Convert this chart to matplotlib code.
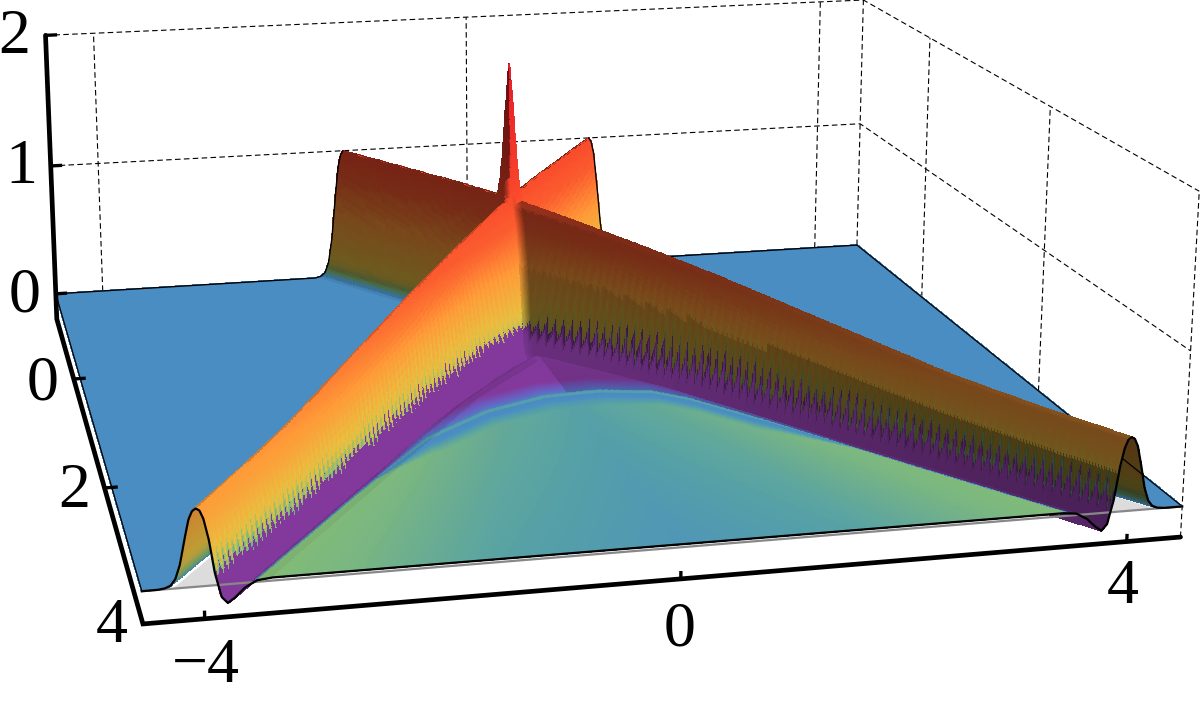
import numpy as np
import matplotlib
matplotlib.use("Agg")
import matplotlib.pyplot as plt
from matplotlib.colors import LinearSegmentedColormap

# --- axis ranges and labels
X_MIN, X_MAX = -4.5, 4.5
T_MIN, T_MAX = -1.3, 4.0
Z_MIN = -0.2
X_TICKS = [-4, 0, 4]
T_TICKS = [0, 2]
Z_TICKS = [0, 1, 2]
X_LABELS = ["\u22124", "0", "4"]
T_LABELS = ["0", "2", "4"]
Z_LABELS = ["0", "1", "2"]

# --- values
BACK_SPEED = 1.05
FRONT_LEFT_SPEED = 1.012
CREST_T = [-1.3, -0.4, 0.0, 0.5, 1.0, 1.5, 2.0, 2.5, 3.0, 3.5, 4.0]   # ridge height along time
CREST_A = [1.0, 0.98, 0.96, 0.91, 0.855, 0.79, 0.71, 0.63, 0.55, 0.505, 0.475]
OUTER_D = [0.0, 0.03, 0.06, 0.10, 0.14, 0.18, 0.22, 0.27, 0.33]       # ridge section, outer side
OUTER_P = [1.0, 0.97, 0.87, 0.60, 0.30, 0.12, 0.04, 0.01, 0.0]
INNER_D = [0.0, 0.03, 0.06, 0.10, 0.14, 0.19, 0.24, 0.30, 0.38, 0.48, 0.60]  # inner side, trough
INNER_P = [1.0, 0.97, 0.86, 0.58, 0.16, -0.15, -0.23, -0.17, -0.06, 0.02, 0.04]
WIDEN_T = [0.0, 0.3, 0.8, 1.5, 4.0]                                   # inner side is wider near the crossing
WIDEN_W = [3.2, 2.6, 1.5, 1.1, 1.0]
TROUGH_SCALE = 0.5
SPIKE_R = [0.0, 0.01, 0.02, 0.03, 0.055, 0.08, 0.11, 0.16, 0.20]       # central spike
SPIKE_Z = [0.99, 0.93, 0.85, 0.76, 0.55, 0.36, 0.20, 0.05, 0.0]
ARC_X = [-4.2, -3.6, -2.5, -1.56, -0.87, -0.24, 0.3, 0.8, 1.09, 1.66, 2.5, 3.4, 4.2]  # purple zone edge
ARC_T = [4.6, 4.0, 2.95, 2.1, 1.72, 1.53, 1.5, 1.58, 1.75, 2.25, 3.08, 3.95, 4.75]
RIM_X = [0.0, 1.5, 2.2]
RIM_W = [1.0, 1.0, 0.12]
ARC_D = [-0.22, -0.12, -0.04, 0.0, 0.02, 0.05, 0.07, 0.14, 0.30]
ARC_C = [0.03, 0.10, 0.16, 0.20, 0.32, 0.32, 0.24, 0.26, 0.31]
U_TAB = [0.0, 0.4, 0.7, 1.0]                                            # colour across the wedge
U_COL_NEAR = [0.33, 0.36, 0.40, 0.44]
U_COL_FRONT = [0.285, 0.33, 0.40, 0.44]
BAND_T = [0.0, 1.5, 3.0, 4.0]                                           # right purple band darkens
BAND_F = [0.95, 0.85, 0.72, 0.65]
Z_TAB = [0.0, 0.01, 0.03, 0.06, 0.12, 0.20, 0.35, 0.50, 0.80, 1.0, 1.5, 2.0]
C_TAB = [0.08, 0.16, 0.30, 0.42, 0.55, 0.60, 0.66, 0.72, 0.84, 0.88, 0.95, 1.0]
CMAP_POS = [0.0, 0.12, 0.25, 0.32, 0.42, 0.58, 0.72, 0.88, 1.0]
CMAP_COL = ["#8a2f90", "#6a5cc0", "#4a8dc3", "#55a0a8", "#82bb78",
            "#e8c040", "#ff9a38", "#fa4a2c", "#e81c28"]
TOOTH_PERIOD = 0.05
TOOTH_LEFT, TOOTH_RIGHT = 0.022, 0.035

# --- camera calibration: (x, t, z) seen at (px, py)
CAL_3D = np.array([
    (-4.5, -1.3, 0), (4.5, -1.3, 0), (4.5, 4, 0), (-4.5, 4, 0),
    (-4.5, -1.3, 2), (4.5, -1.3, 2), (4.5, 4, 2), (-4.5, -1.3, 1), (4.5, -1.3, 1),
    (-4, -1.3, 2), (4, -1.3, 2), (4.5, 0, 2), (4.5, 2, 2), (-4, -1.3, 0), (4, -1.3, 0),
    (-4.5, -1.3, -.2), (-4.5, 4, -.2), (4.5, 4, -.2), (-4, 4, -.2), (0, 4, -.2),
    (4, 4, -.2), (-4.5, 0, -.2), (-4.5, 2, -.2)], float)
CAL_2D = np.array([
    (58, 293), (857, 245), (1182, 507), (142, 592),
    (45, 35), (862, 0), (1198, 190), (52, 165), (859, 123),
    (93, 33), (820, 2), (932, 39), (1052, 108), (103, 291), (815, 247),
    (55, 320), (143, 624), (1181, 537), (204, 617), (680, 579),
    (1127, 541), (73, 381), (105, 488)], float)


def fit_camera(p3, p2):
    rows, rhs = [], []
    for (x, y, z), (u, v) in zip(p3, p2):
        rows.append([x, y, z, 1, 0, 0, 0, 0, -u * x, -u * y, -u * z]); rhs.append(u)
        rows.append([0, 0, 0, 0, x, y, z, 1, -v * x, -v * y, -v * z]); rhs.append(v)
    s = np.linalg.lstsq(np.array(rows), np.array(rhs), rcond=None)[0]
    return np.append(s, 1).reshape(3, 4)


CAM = fit_camera(CAL_3D, CAL_2D)


def proj(x, t, z):
    x, t, z = np.broadcast_arrays(np.asarray(x, float), np.asarray(t, float), np.asarray(z, float))
    w = CAM[2, 0] * x + CAM[2, 1] * t + CAM[2, 2] * z + CAM[2, 3]
    return ((CAM[0, 0] * x + CAM[0, 1] * t + CAM[0, 2] * z + CAM[0, 3]) / w,
            (CAM[1, 0] * x + CAM[1, 1] * t + CAM[1, 2] * z + CAM[1, 3]) / w)


def ridge_dist(x, t):
    speed = np.where(t < 0, BACK_SPEED, np.where(x < 0, FRONT_LEFT_SPEED, 1.0))
    return np.abs(x) - np.abs(t) * speed


def section(rho, t):
    outer = np.interp(np.abs(rho), OUTER_D, OUTER_P)
    widen = np.interp(t, WIDEN_T, WIDEN_W)
    inner = np.interp(-rho / widen, INNER_D, INNER_P)
    return np.where((t > 0) & (rho < 0), inner, outer)


def height(x, t):
    x, t = np.broadcast_arrays(np.asarray(x, float), np.asarray(t, float))
    rho = ridge_dist(x, t)
    a = np.interp(t, CREST_T, CREST_A)
    prof = section(rho, t)
    r = np.hypot(x, 2.0 * t)
    return a * np.maximum(prof, 0) + TROUGH_SCALE * np.minimum(prof, 0) + np.interp(r, SPIKE_R, SPIKE_Z)


# grid steps locked to the tooth period so the colour teeth do not beat with the rows
STEP = TOOTH_PERIOD / 6
x_g = np.union1d(np.arange(-540, 541) * STEP, np.arange(-48, 49) * STEP / 2)
x_g = x_g[(x_g >= X_MIN) & (x_g <= X_MAX)]
t_g = np.arange(-156, 481) * STEP
XX, TT = np.meshgrid(x_g, t_g)
ZZ = height(XX, TT)
RHO = ridge_dist(XX, TT)
widen = np.interp(TT, WIDEN_T, WIDEN_W)

# sampling teeth of the colour along the foot of the front ridges
phase = np.abs(2 * ((TT / TOOTH_PERIOD) % 1.0) - 1)
window = np.clip((-RHO / widen - 0.06) / 0.05, 0, 1)
tooth = np.where(XX < 0, TOOTH_LEFT, TOOTH_RIGHT) * phase * window * np.clip(TT / 0.5, 0, 1)
RHO_C = np.where((TT > 0) & (RHO < 0), RHO - tooth, RHO)
PROF_C = section(RHO_C, TT)
Z_C = np.interp(TT, CREST_T, CREST_A) * np.maximum(PROF_C, 0) + TROUGH_SCALE * np.minimum(PROF_C, 0) \
      + np.interp(np.hypot(XX, 2.0 * TT), SPIKE_R, SPIKE_Z)

cmap = LinearSegmentedColormap.from_list("ridge", list(zip(CMAP_POS, CMAP_COL)))
c_z = np.interp(Z_C, Z_TAB, C_TAB)
arc = np.interp(XX, ARC_X, ARC_T)
u_abs = np.abs(XX) / np.maximum(TT, 1e-3)
mix = np.clip((TT - 1.5) / 2.5, 0, 1)
base = (1 - mix) * np.interp(u_abs, U_TAB, U_COL_NEAR) + mix * np.interp(u_abs, U_TAB, U_COL_FRONT)
d = (TT - arc) / np.interp(np.abs(XX), RIM_X, RIM_W)
blend = np.clip((d - ARC_D[-2]) / (ARC_D[-1] - ARC_D[-2]), 0, 1)
field = np.where(d < ARC_D[-1], (1 - blend) * np.interp(d, ARC_D, ARC_C) + blend * base, base)
wedge = (TT > 0) & (RHO < 0)
col = np.where(wedge, np.where(RHO_C / widen < -0.15, field, np.maximum(c_z, field)),
               np.maximum(c_z, 0.25))

grad = np.gradient(ZZ, x_g, axis=1)
tunnel = (TT > 0.15) & (RHO > 0)
grad = np.where(tunnel, -grad, grad)
weight = 0.25 + 0.75 * np.clip(Z_C / 0.08, 0, 1)
seam = np.where(TT > 0.05, np.clip(np.abs(XX) / 0.08, 0, 1), 1.0)
shade = 1 - 0.53 * np.clip(np.tanh(3.0 * grad), 0, 1) * weight * seam
back_f = np.where(XX < 0, 0.82, 0.72)
shade = shade * np.where(tunnel, 1 - (1 - back_f) * np.clip(ZZ / 0.05, 0, 1), 1.0)
in_band = wedge & (XX > 0) & (d < 0) & (RHO / widen < -0.1)
shade = shade * np.where(in_band, np.interp(TT, BAND_T, BAND_F), 1.0)
rgba = cmap(col)
rgba[..., :3] *= shade[..., None]
rgba = rgba[:-1, :-1].copy()
cx = 0.5 * (XX[:-1, :-1] + XX[1:, 1:])
ct = 0.5 * (TT[:-1, :-1] + TT[1:, 1:])
PX, PY = proj(XX, TT, ZZ)

fig = plt.figure(figsize=(12, 7.03), dpi=100)
ax = fig.add_axes([0, 0, 1, 1])
ax.set_xlim(0, 1200)
ax.set_ylim(703, 0)
ax.axis("off")


def line3(x, t, z, **kw):
    px, py = proj(x, t, z)
    ax.plot(px, py, **kw)


# walls
dash = dict(color="black", lw=0.8, ls=(0, (5, 3)), zorder=1)
for xv in X_TICKS:
    line3([xv, xv], [T_MIN, T_MIN], [0, 2], **dash)
line3([X_MAX, X_MAX], [T_MIN, T_MIN], [0, 2], **dash)
for tv in T_TICKS:
    line3([X_MAX, X_MAX], [tv, tv], [0, 2], **dash)
line3([X_MAX, X_MAX], [T_MAX, T_MAX], [Z_MIN, 2], **dash)
for zv in [1, 2]:
    line3([X_MIN, X_MAX, X_MAX], [T_MIN, T_MIN, T_MAX], [zv, zv, zv], **dash)


def mesh(mask, z):
    c = rgba.copy()
    c[~mask, 3] = 0
    ax.pcolormesh(PX, PY, c, shading="flat", edgecolors="face", linewidth=0.35,
                  antialiased=False, zorder=z)


c_rho = ridge_dist(cx, ct)
mesh((ct < 0) & (c_rho < 0), 2)

# plane seen through the open ends of the front ridges
t_p = np.array([3.0, T_MAX])
for sgn in (-1, 1):
    gx = np.r_[sgn * (t_p + 0.25), sgn * (t_p - 0.15)[::-1]]
    gt = np.r_[t_p, t_p[::-1]]
    gpx, gpy = proj(gx, gt, 0)
    ax.fill(gpx, gpy, color="#dcdcdc", lw=0, zorder=3)

mesh(c_rho >= 0, 4)
mesh((ct > 0) & (c_rho < 0), 5)

# surface outlines
x_e = np.linspace(X_MIN, X_MAX, 1800)
crest_x = -T_MIN * BACK_SPEED
for part in (x_e[x_e <= -crest_x], x_e[x_e >= crest_x]):
    line3(part, T_MIN, height(part, T_MIN), color="black", lw=1.0, zorder=4.5)
line3([X_MIN, X_MIN], [T_MIN, T_MAX], [0, 0], color="black", lw=0.9, zorder=4.5)
line3([X_MAX, X_MAX], [T_MIN, T_MAX], [0, 0], color="black", lw=0.9, zorder=4.5)
line3([X_MIN, X_MAX], [T_MAX, T_MAX], [0, 0], color="#888888", lw=1.6, zorder=6)
line3(x_e, T_MAX, height(x_e, T_MAX), color="black", lw=1.6, zorder=7)

# box axes
axk = dict(color="black", lw=3.4, solid_capstyle="round", zorder=8)
line3([X_MIN, X_MIN, X_MIN, X_MAX], [T_MIN, T_MIN, T_MAX, T_MAX], [2, Z_MIN, Z_MIN, Z_MIN],
      solid_joinstyle="miter", **axk)
tk = dict(color="black", lw=2.4, zorder=8, solid_capstyle="butt")
for xv in X_TICKS:
    line3([xv, xv], [T_MAX, T_MAX], [Z_MIN, Z_MIN + 0.05], **tk)
for tv in T_TICKS:
    line3([X_MIN, X_MIN + 0.12], [tv, tv], [Z_MIN, Z_MIN], **tk)
for zv in Z_TICKS:
    line3([X_MIN, X_MIN + 0.12], [T_MIN, T_MIN], [zv, zv], **tk)

# labels
font = dict(family="Liberation Serif", fontsize=46, ha="center", va="center", color="black", zorder=9)
Z_POS = [(25, 297), (21, 168), (14, 38)]
T_POS = [(43, 385), (74, 492), (112, 627)]
X_POS = [(206, 667), (680, 630), (1123, 588)]
for lab, (px, py) in zip(Z_LABELS, Z_POS):
    ax.text(px, py, lab, **font)
for lab, (px, py) in zip(T_LABELS, T_POS):
    ax.text(px, py, lab, **font)
for lab, (px, py) in zip(X_LABELS, X_POS):
    ax.text(px, py, lab, **font)

fig.savefig("out.png", dpi=100)
